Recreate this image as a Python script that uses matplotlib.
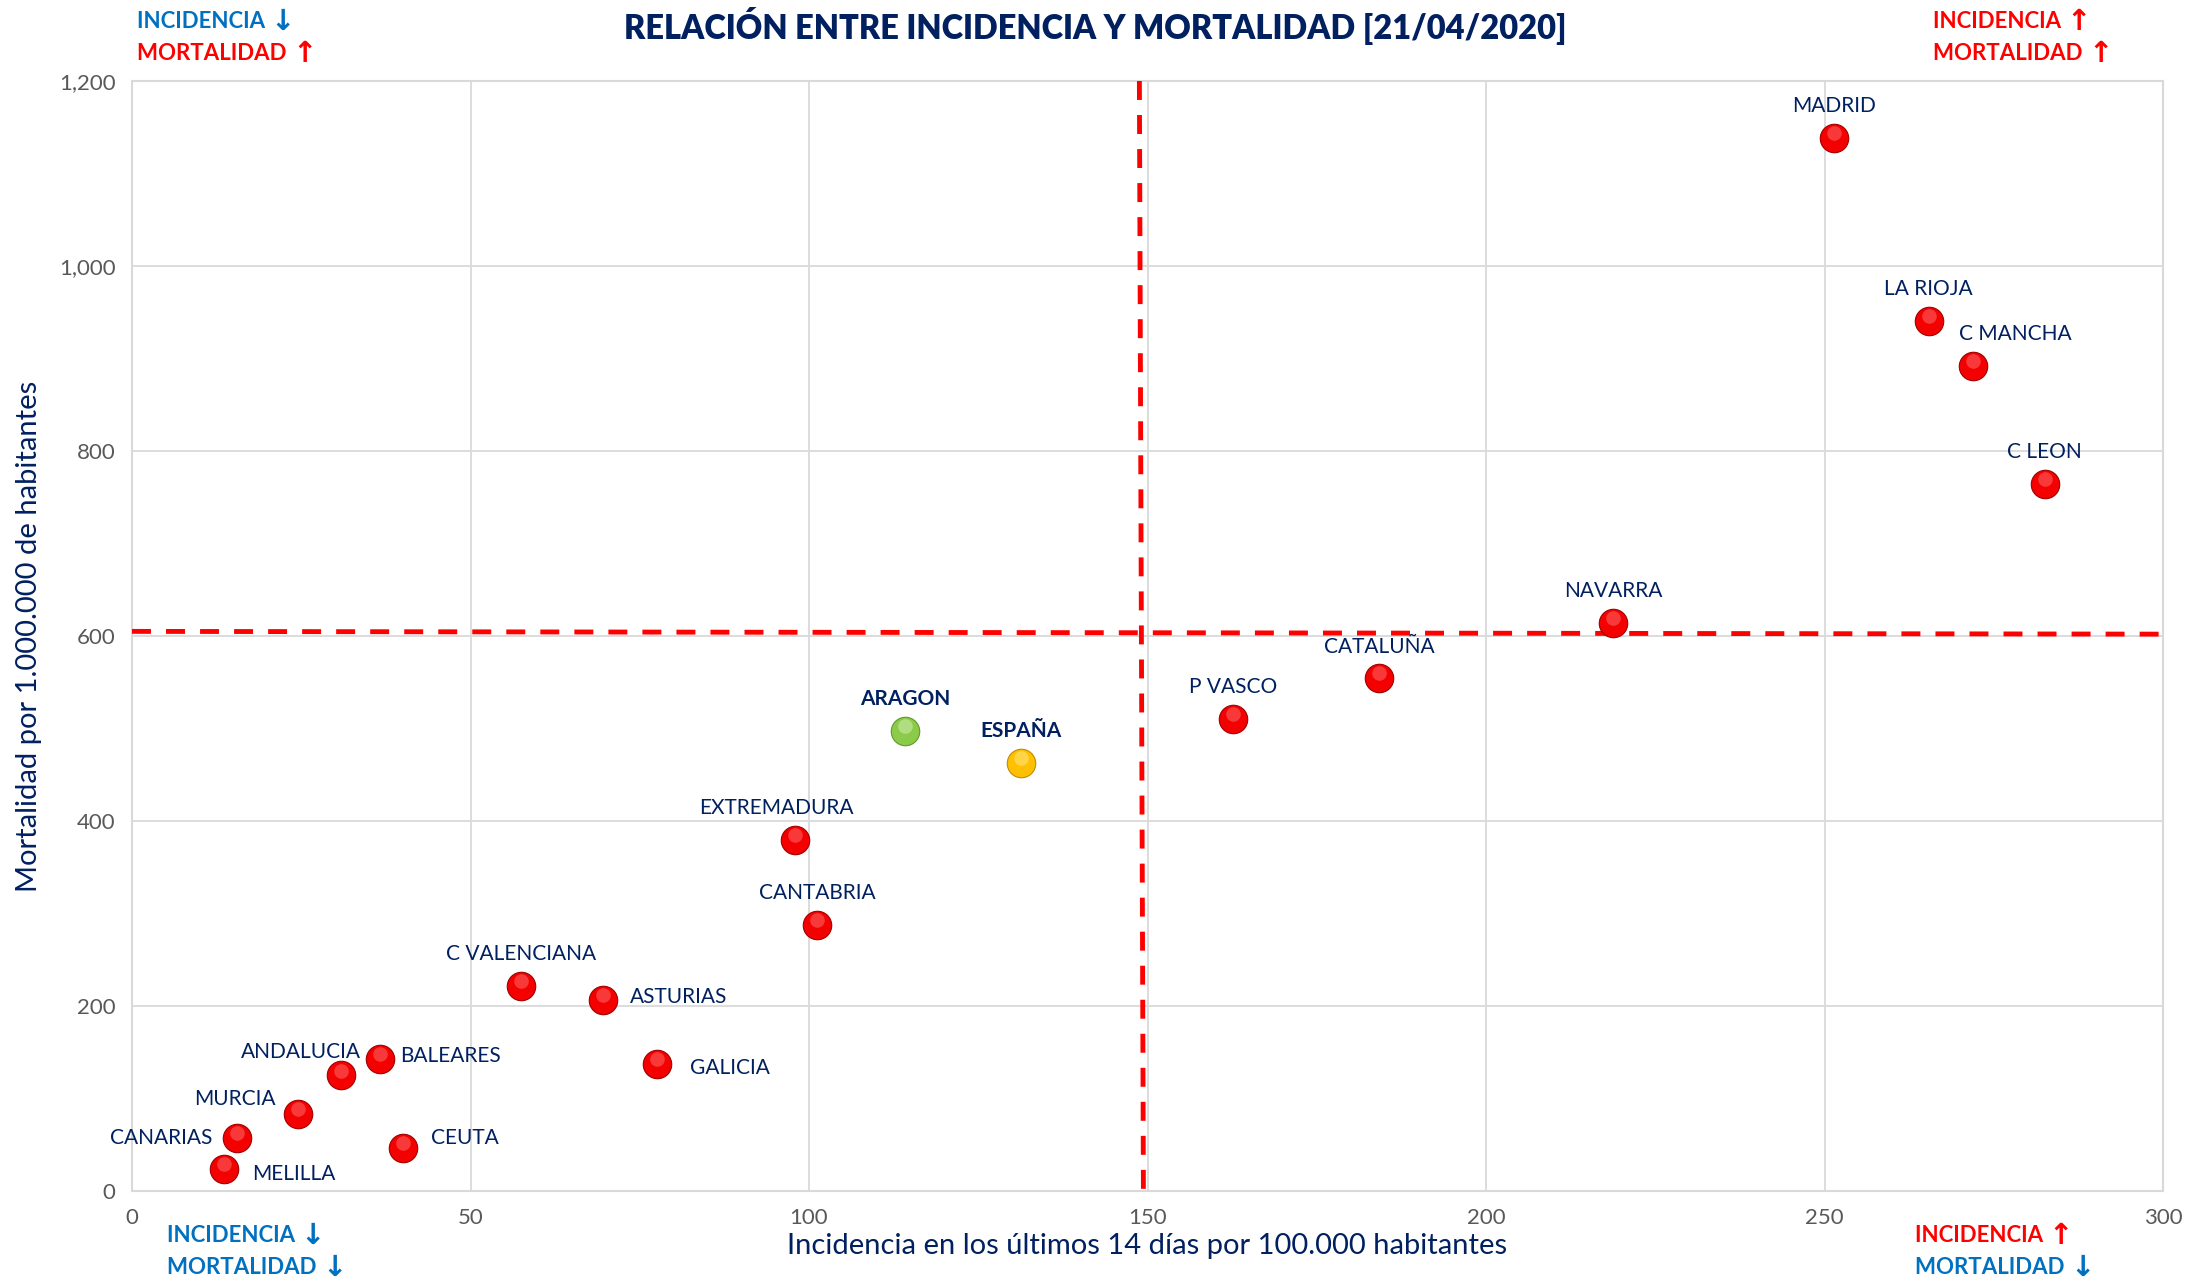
import matplotlib
matplotlib.use("Agg")
import matplotlib.pyplot as plt
import matplotlib.transforms as mtransforms
from matplotlib.ticker import FuncFormatter

# datos
regiones = ["MADRID", "LA RIOJA", "C MANCHA", "C LEON", "NAVARRA", "CATALUÑA",
            "P VASCO", "EXTREMADURA", "CANTABRIA", "C VALENCIANA", "ASTURIAS",
            "GALICIA", "BALEARES", "ANDALUCIA", "MURCIA", "CANARIAS", "CEUTA", "MELILLA"]
incidencia = [251.4, 265.4, 272.0, 282.5, 218.8, 184.2, 162.6, 97.9, 101.2, 57.5,
              69.6, 77.5, 36.7, 30.9, 24.5, 15.5, 40.0, 13.6]
mortalidad = [1138, 941, 892, 764, 614, 555, 510, 380, 288, 222, 207, 137, 143,
              125, 83, 57, 47, 24]

aragon = (114.2, 497)
espana = (131.3, 463)

media_x = [148.8, 149.4]
media_y = [605, 602]

xticks = [0, 50, 100, 150, 200, 250, 300]
yticks = [0, 200, 400, 600, 800, 1000, 1200]

# posicion de las etiquetas (offset en puntos, alineacion)
etiquetas = {
    "MADRID": (0, 23, "center"), "LA RIOJA": (0, 23, "center"),
    "C MANCHA": (30, 23, "center"), "C LEON": (0, 23, "center"),
    "NAVARRA": (0, 23, "center"), "CATALUÑA": (0, 22, "center"),
    "P VASCO": (0, 23, "center"), "EXTREMADURA": (-13, 23, "center"),
    "CANTABRIA": (0, 23, "center"), "C VALENCIANA": (0, 23, "center"),
    "ASTURIAS": (19, 2, "left"), "GALICIA": (24, -3, "left"),
    "BALEARES": (14, 2, "left"), "ANDALUCIA": (14, 17, "right"),
    "MURCIA": (-16, 11, "right"), "CANARIAS": (-18, 0, "right"),
    "CEUTA": (20, 7, "left"), "MELILLA": (20, -4, "left"),
}

navy = "#002060"
azul = "#0070C0"
rojo = "#FF0000"
plt.rcParams["font.family"] = ["Lato", "DejaVu Sans"]

W, H = 2187, 1280
fig = plt.figure(figsize=(W / 100, H / 100), dpi=100)
ax = fig.add_axes([132 / W, 1 - 1191 / H, (2163 - 132) / W, (1191 - 81) / H])


def esfera(x, y, color, borde, brillo):
    ax.scatter(x, y, s=420, color=color, edgecolors=borde, linewidths=0.8, zorder=4)
    tr = mtransforms.offset_copy(ax.transData, fig=fig, x=0, y=3.5, units="points")
    ax.scatter(x, y, s=110, color=brillo, alpha=0.45, linewidths=0, zorder=5, transform=tr)


esfera(incidencia, mortalidad, "#F40000", "#A00000", "#FF8080")
esfera([aragon[0]], [aragon[1]], "#8CCB4A", "#5E9A2A", "#DDF5C0")
esfera([espana[0]], [espana[1]], "#FFC000", "#C08A00", "#FFF0A0")

for n, x, y in zip(regiones, incidencia, mortalidad):
    dx, dy, ha = etiquetas[n]
    ax.annotate(n, (x, y), xytext=(dx, dy), textcoords="offset points",
                ha=ha, va="center", fontsize=15, color=navy, zorder=6)
ax.annotate("ARAGON", aragon, xytext=(0, 23), textcoords="offset points",
            ha="center", va="center", fontsize=15, color=navy, fontweight="bold")
ax.annotate("ESPAÑA", espana, xytext=(0, 23), textcoords="offset points",
            ha="center", va="center", fontsize=15, color=navy, fontweight="bold")

# lineas de referencia
ax.plot([0, 300], media_y, color=rojo, lw=3.5, ls=(0, (3.9, 3.1)), zorder=3, clip_on=False)
ax.plot(media_x, [1200, -6], color=rojo, lw=3.5, ls=(0, (3.9, 3.1)), zorder=3, clip_on=False)

ax.set_xlim(0, 300)
ax.set_ylim(0, 1200)
ax.set_xticks(xticks)
ax.set_yticks(yticks)
ax.yaxis.set_major_formatter(FuncFormatter(lambda v, p: f"{int(v):,}"))
ax.tick_params(length=0, labelsize=16, labelcolor="#595959", pad=12)
ax.grid(True, color="#D9D9D9", lw=1.3)
ax.set_axisbelow(True)
for s in ax.spines.values():
    s.set_color("#D9D9D9")
    s.set_linewidth(1.5)

ax.set_xlabel("Incidencia en los últimos 14 días por 100.000 habitantes",
              fontsize=21, color=navy, labelpad=4)
ax.set_ylabel("Mortalidad por 1.000.000 de habitantes", fontsize=21, color=navy, labelpad=12)

fig.text(1095 / W, 1 - 26 / H, "RELACIÓN ENTRE INCIDENCIA Y MORTALIDAD [21/04/2020]",
         ha="center", va="center", fontsize=23.5, fontweight="heavy", color=navy)


def esquina(x, y, t1, c1, f1, t2, c2, f2):
    for i, (txt, c, f) in enumerate([(t1, c1, f1), (t2, c2, f2)]):
        t = fig.text(x / W, 1 - (y + 32 * i) / H, txt + " ", color=c, fontsize=16,
                     fontweight="bold", va="center")
        ax.annotate(f, xy=(1, 0.45), xycoords=t, ha="left", va="center",
                    color=c, fontsize=21, fontweight="bold",
                    family="DejaVu Sans", annotation_clip=False)


esquina(137, 21, "INCIDENCIA", azul, "↓", "MORTALIDAD", rojo, "↑")
esquina(1933, 21, "INCIDENCIA", rojo, "↑", "MORTALIDAD", rojo, "↑")
esquina(167, 1235, "INCIDENCIA", azul, "↓", "MORTALIDAD", azul, "↓")
esquina(1915, 1235, "INCIDENCIA", rojo, "↑", "MORTALIDAD", azul, "↓")

fig.savefig("out.png", dpi=100)
